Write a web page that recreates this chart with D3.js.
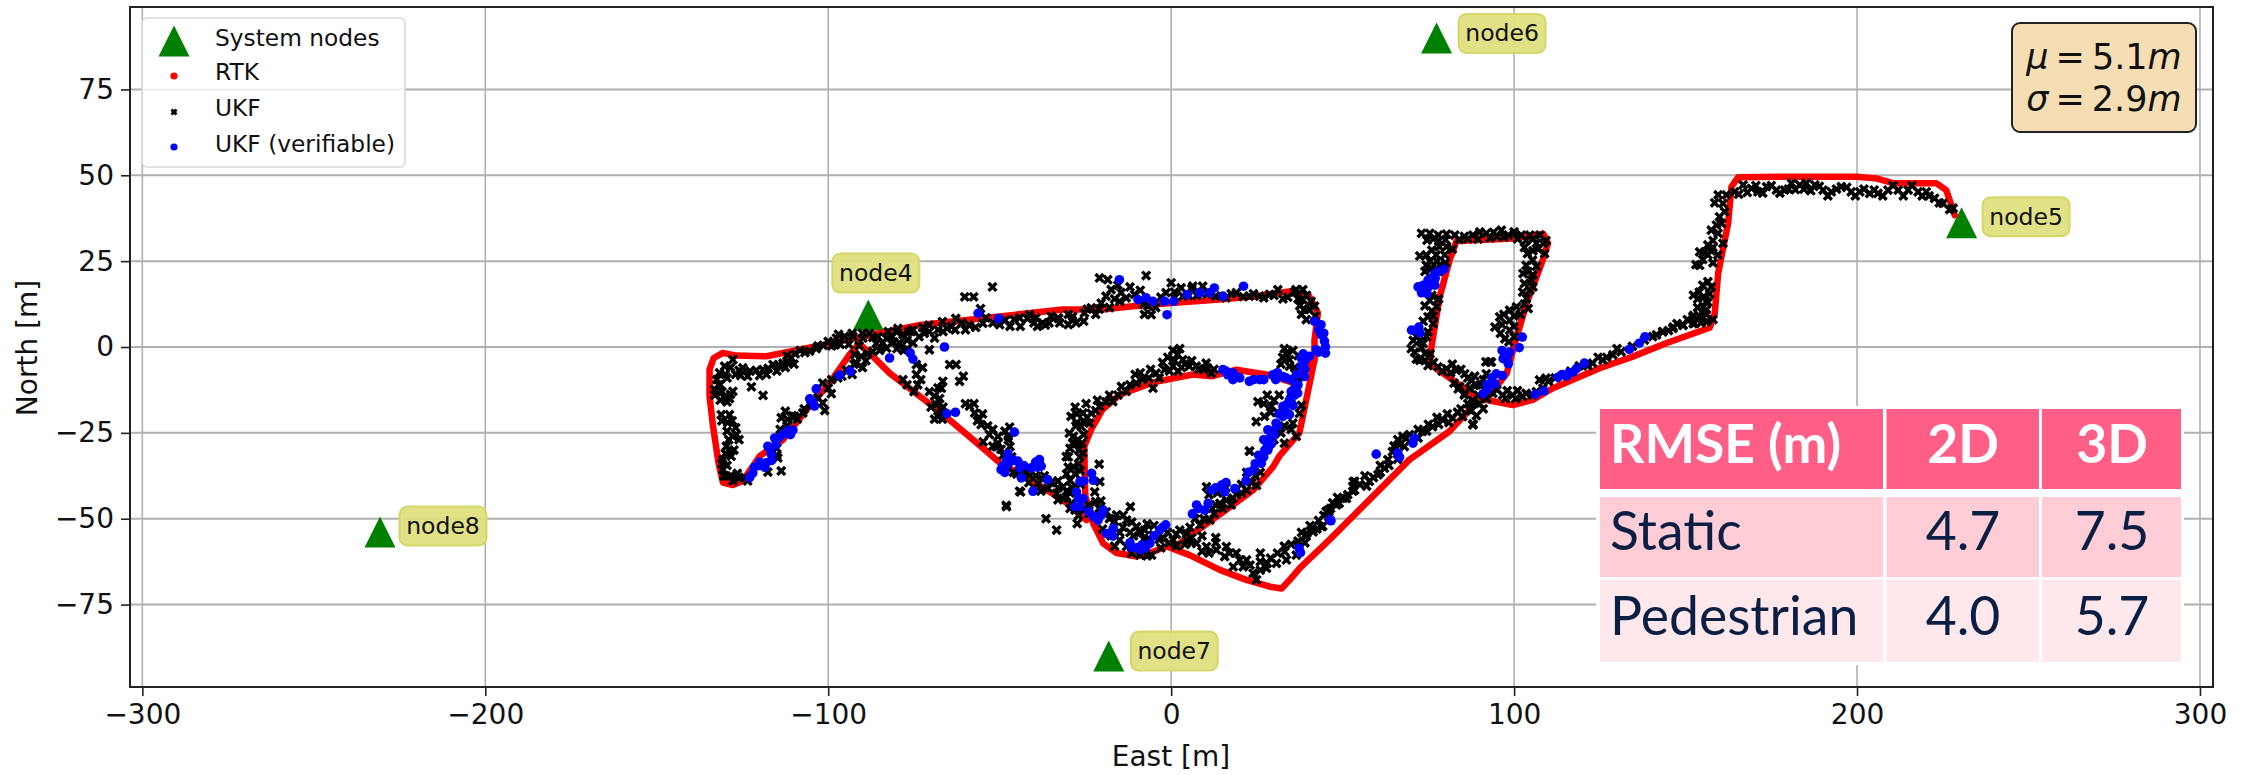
<!DOCTYPE html>
<html>
<head>
<meta charset="utf-8">
<script src="https://cdn.jsdelivr.net/npm/d3@7"></script>
<style>
  html, body { margin: 0; padding: 0; background: #fff; }
  svg { display: block; }
  text { font-family: "DejaVu Sans", sans-serif; fill: #111; }
</style>
</head>
<body>
<svg width="2244" height="775"></svg>
<script>
const xTicks = [-300, -200, -100, 0, 100, 200, 300];
const yTicks = [-75, -50, -25, 0, 25, 50, 75];

const nodeNames = ["node4", "node5", "node6", "node7", "node8"];
const nodeEast = [-88.3, 230.5, 77.4, -18.2, -230.7];
const nodeNorth = [9.3, 36.2, 90, -90, -53.9];

const legendLabels = ["System nodes", "RTK", "UKF", "UKF (verifiable)"];

const tableHeader = ["RMSE (m)", "2D", "3D"];
const tableRows = [
  ["Static", "4.7", "7.5"],
  ["Pedestrian", "4.0", "5.7"]
];

// RTK track
const rtkMain = [
  [228.5,38.4],[226,45.7],[223.1,47.7],[210.5,47.7],[205.6,49.1],[199.8,49.6],[181.3,49.6],[165.3,49.4],[163.4,46.7],
  [162.4,36],[159.5,21.4],[158.5,9.7],[157,5.6],[144.3,1.1],[134.6,-2.8],[124.9,-6.2],[111.3,-12],[105.4,-15.4],[99.6,-16.9],
  [91.8,-15.4],[97.8,-7.8],[100.2,1],[103.6,12.6],[108,24.3],[109.9,30.2],[108.5,33],[99.7,31.6],[83.2,30.9],[81.2,25.3],
  [78.3,14.6],[75.9,0],[75.4,-4.9],[82.2,-9.7],[90,-15.1],[81.1,-24.6],[69.5,-32.8],[60.7,-41.6],[46.2,-56.1],[37.5,-64.4],
  [34.6,-67.8],[32.2,-70.3],[28.8,-69.8],[21.9,-67.8],[14.2,-64.9],[5.4,-60.6],[-1.4,-58],[-5.2,-59.6],[-10,-61],[-15.9,-60],
  [-19.8,-57.2],[-22.7,-51.4],[-25,-43.6],[-25.2,-36.8],[-25.3,-28.8],[-23.3,-24],[-20,-18.2],[-15,-13.9],[-5.3,-10.3],[6.3,-8],
  [12,-8.5],[19,-6.6],[27.7,-8],[36,-10.5],[41.8,-3.7],[41.8,2.1],[42.8,9.9],[40.3,14.7],[34.5,16.2],[23.8,14.7],[14,13.8],
  [0,12.8],[-12,11.8],[-20,10.9],[-31.6,10.9],[-73.2,6.4],[-101.7,0.6],[-111,-1.3],[-118,-2.7],[-126.8,-2.5],[-130.7,-1.7],
  [-133.4,-3.2],[-134.6,-6.6],[-134.6,-14.3],[-133.6,-23],[-132,-33.7],[-130.7,-39.5],[-127.8,-40.2],[-124.9,-39],[-120,-31.8],
  [-113.2,-27],[-105.4,-17.2],[-99.6,-10.5],[-93.8,-2.2],[-91,1],[-88,-1.7],[-82.1,-7.6],[-71.4,-15.8],[-63.7,-22],[-53.9,-30.3],
  [-50,-33.7],[-39.3,-39.7],[-30.6,-45.3],[-24.7,-50.4]
];
const rtkSouth = [
  [41.8,-3.7],[39.4,-15.3],[37.4,-25],[31.6,-31.7],[29.7,-34.9],[23.9,-41.7],[15.9,-47.5],[6.4,-54.3],[1,-58.3]
];

const ukfPoints = [
  [-133.1,-12.4],[-132.5,-9.5],[-131.7,-7.5],[-130.2,-5.6],[-127.8,-3.7],[-128.5,-6],[-126,-6.8],[-124.9,-6.1],[-122.8,-7],[-121,-6.8],
  [-119,-6.6],[-117.5,-6.2],[-116.1,-5.1],[-114.5,-5.2],[-113.2,-4.7],[-112,-4.2],[-110.8,-3.2],[-109.6,-2],[-108.2,-1],[-106.8,-1.6],
  [-105.4,-1.2],[-103,0.3],[-100,1.6],[-97.6,2.6],[-95.2,3.1],[-92.8,3.1],[-89.9,2.6],[-87,2.8],[-98,0.6],[-94,0.8],[-91,0.4],
  [-122.4,-11.6],[-119,-14.1],[-131.5,-11],[-130.2,-14.8],[-127.8,-12.9],[-131.2,-19.7],[-128.8,-19.7],[-129.3,-22],[-127.8,-26],
  [-126.8,-25.5],[-129.7,-28.9],[-128.3,-31.8],[-130.7,-32.8],[-130.7,-35.7],[-129.7,-37.6],[-127.8,-39],[-125.9,-38.1],[-128.8,-15],
  [-113.7,-20.6],[-111.8,-21.1],[-109.8,-20.2],[-107.4,-19.2],[-114.7,-32.3],[-113.7,-36.1],[-117.6,-36.4],[-101.6,-10.5],[-99.1,-13.6],
  [-101.6,-16.3],[-103,-14.8],[-97.2,-9],[-94.8,-6.6],[-91.8,-4.7],[-92.3,-2.2],[-90.4,-2.7],[-87,-1.3],
  [-84.1,1.2],[-81.6,3.1],[-78.2,3.6],[-75.3,5],[-75.3,1.2],[-79.2,1.2],[-69,2.6],[-72,4],[-70.5,-0.8],[-64.6,-5.1],[-62.7,-5.1],
  [-60.6,-8.5],[-61.7,-10],[-74.3,-5.1],[-74.3,-8],[-73.9,-11],[-78.2,-9.5],[-66.6,-10],[-68,-11.9],[-69,-14.3],[-68.5,-16.8],[-68,-20.2],
  [-58.8,-17.2],[-57.3,-19.2],[-55.4,-22.6],[-47.1,-23.3],[-53,-25.5],[-50.5,-26],[-52,-28.9],[-49.6,-29.8],[-47.5,-27],[-56,-21],
  [-44.2,-42],[-48.1,-46.1],[-48,-46.5],[-36.5,-50],[-33.4,-53.3],[-27.4,-51.4],[-43.9,-42.2],[-21,-34.1],[-20.8,-39.2],[-22.3,-42.2],
  [-11.9,-46.5],[22.9,-30.3],[10.3,-40.7],[-54.8,-27.6],[-50.9,-29.1],[-41.2,-37.3],[-38.8,-39.7],[-35.9,-41.2],[-33.4,-42.6],
  [-31.5,-44.1],[-29.1,-45.5],[-25.7,-47.5],[-45,-37],[-43,-36.5],[-37,-37.5],[-33,-39],
  [-18.9,-48],[-15.9,-48.9],[-13,-50.4],[-10.1,-52.3],[-7.7,-53.3],[-5.2,-54.7],[-2.3,-55.7],[0.6,-56.2],[-20,-53],[-15,-56.2],[-13,-58.1],
  [-9.1,-60.6],[-5.7,-60.6],[-11,-55],[-8,-56],[-27.6,-28.1],[-30,-32],[-26.6,-32],[-28.6,-34.9],[-29.5,-38.8],[-31.5,-40.7],[-30.5,-43.6],
  [-29.2,-20.2],[-25.7,-19.2],[-29.7,-25.1],[-26.2,-23.2],[-28.7,-28],[-30.6,-31.9],[-25.8,-30.9],[-27.2,-27],[-27.5,-22],
  [2.5,-53.3],[4.5,-56.2],[7.4,-57.2],[10.3,-58.1],[13.2,-59.1],[16.1,-58.1],[15.6,-61],[18.1,-64],[21,-64],[23.9,-65.9],[24.9,-67.8],
  [27.8,-64.4],[30.7,-63],[33.6,-62],[33.1,-59.6],[36.5,-60.6],[39.5,-54.3],[41.4,-53.8],[43.8,-52.3],[45.8,-47.5],[48.2,-46],[51.1,-44.1],
  [53.5,-41.7],[53.1,-39.2],[4.5,-54.3],[8.4,-51.8],[11.3,-50.4],[14.2,-45.5],[16.1,-44.6],[19,-43],[22,-41.7],[24.9,-40.3],[12,-47],
  [6,-57],[9,-55],[13,-55.5],[19,-60],[22,-62],[26,-60],
  [73,33.1],[75.4,33.1],[77.9,32.6],[80.3,32.9],[82.7,32.6],[74.6,31.1],[78,30.9],[85.5,32.2],[88,32.6],[91.9,33.1],[94,33.4],[96.3,34],
  [98.3,32.6],[102.1,32.6],[104.6,32.6],[107.5,32.6],[108.5,30.2],[106.5,30.2],[108.9,27.2],[103.9,27.2],[105.4,25.3],[104.1,21.9],
  [102.6,21.4],[105,19.5],[104.6,16.5],[103.6,14.1],[104.1,11.2],[100.7,11.7],[98.7,10.7],[95.8,8.8],[98.7,7.8],[94.4,5.8],[98.7,4.9],[97.3,2.4],
  [80.3,29.2],[78.2,29.2],[74.4,26.8],[77.3,26.8],[79.8,26.8],[74.4,23.8],[78.3,23.8],[75.4,13.6],[77.4,11.7],[74.9,8.8],[76.4,6.8],[74.9,4.4],
  [70.6,1.9],[73.5,1],[71,-1.5],[74,-1.9],[72.5,-3.9],[74.9,-5.4],[77.8,-5.8],[80.3,-6.3],[83.2,-6.8],[85.6,-7.8],[87.6,-9.7],[90,-11.2],
  [83.7,-12.2],[85.6,-13.6],[88,-15.6],[90,-16.5],[88,-22.4],[87.6,-18.5],[93.4,-4.4],[91.9,-7.8],[84.1,-11.5],[85.5,-14],[91.8,-4.3],[93,-4.3],
  [93.8,-13.5],[96.7,-14],[99.6,-14],[102.5,-14.4],[105.4,-14],[107.4,-9.6],[109.3,-9.1],[108.4,-12],[122.9,-4.7],[125.9,-3.8],[128.8,-2.3],
  [131.2,-1.4],[140.4,3],[143.3,4.5],[146.3,5.4],[149.2,6.4],[152.6,6.9],[152.1,8.8],[155,8.8],[156,10.8],[156,13.2],[88,-22.7],[87,-18.3],
  [88,-16.4],[85,-20.3],[82.1,-20.7],[79.2,-21.2],[76.2,-23.2],[73.3,-24.6],[68.5,-26.6],[66.1,-27],[66.6,-28.5],[63.2,-32.8],[62.2,-35.3],
  [60.3,-37.2],[57.8,-39.1],[53.5,-39.1],[53,-42],[50.2,-44],[47.1,-45.4],[45.2,-47.9],[44.2,-52.2],[41.3,-53.2],[39.4,-55.1],
  [159.5,44.3],[161.9,44.3],[160.9,41.8],[161.4,39.4],[159.9,37.9],[159,35.5],[159.5,33.1],[160.9,30.2],[156.5,29.7],[154.1,27.7],[156.5,26.8],
  [159.4,26.8],[154.1,23.8],[156.5,19],[157.5,17.5],[152.3,15.1],[155.2,14.6],[155.2,11.7],[152.3,9.2],[156.1,7.3],[152.2,6.8],[149.3,6.3],[146.4,5.8],[143.4,4.4],
  [164.3,45.2],[166.8,47.2],[169.2,46.2],[171.1,45.2],[173.6,46.7],[176.5,45.7],[178.9,45.7],[180.9,47.7],[183.3,47.2],[185.2,47.7],[187.7,47.2],
  [190.1,45.7],[192.5,45.2],[195.4,46.7],[198.3,45.2],[200.8,45.2],[203.7,44.7],[206.1,44.7],[209,45.7],[212,45.7],[214.9,45.7],[217.8,45.2],
  [220.2,45.2],[222.6,43.3],[225.1,41.8],[228,40.4],
  [-44.2,8.5],[-41.3,9.4],[-39.4,8.5],[-37.5,7],[-35.6,7],[-33,8.5],[-32.5,7],[-28.7,8.9],[-27.7,7],[-25.3,9.9],[-23.3,11.4],[-20.4,12.8],[-19,14.8],
  [-17.5,16.7],[-20.9,20.1],[-18.5,19.6],[-7.3,20.8],[-14.6,15.8],[-13.1,14.3],[-10.7,15.3],[-6.8,11.9],[-5.8,9.4],[-1.5,15.8],[0,18.7],[2.9,17.2],
  [6.3,17.7],[9.2,17.7],[3.4,14.8],[16,14.3],[19,15.8],[22.8,14.8],[25.8,14.8],[28.7,15.3],[31.1,16.7],[32.6,14],[36.4,16.7],[38.4,16.7],[38.4,13.8],
  [40.8,13.3],[38.9,10.9],[41.8,11.9],[39.4,8],[-62.8,8.3],[-58.9,6.4],[-54.9,6.9],[-48.4,7.8],[-41.9,8.3],[-36.7,6.4],[-32.8,8.3],[-28.9,7.8],[-60.2,14.6],
  [-57.6,14.6],[-52.1,17.5],[-55.6,11.2],[-65.4,5.4],[-75.8,4.5],[-79.7,5.4],[-70.6,6.4],[-66.7,7.4],[-52,7],[-45.8,8],
  [33.5,-1.8],[34.5,-3.7],[34.5,-5.6],[25.3,-15.9],[29.2,-17.3],[24.8,-21.7],[27.2,-20.2],[22.8,-30.3],[37.4,-19.3],[35.5,-22.2],
  [-1.9,-6.6],[1.9,-2.2],[3.4,-3.7],[5.3,-5.6],[7.3,-5.6],[10.2,-4.7],[11.7,-7.6],[0.5,-5.6],[-4.4,-7.6],[-8.3,-9.5],[-10.2,-10.5],[-13.1,-12.9],
  [-5.3,-12],[-17,-15.9],[-20.9,-17.3],[-23.3,-19.3],[-23.8,-22.2]
];

// second pass over the same bands, the UKF cloud is too thick to read one by one
const ukfBand = [
  [165.5,44.5],[168,45],[170.5,47],[172.5,44.8],[175,47],[177.5,44.8],[180,46],[182,45.8],[184.5,46],[186.5,45.5],[189,46.8],[191.5,44],[194,46],[197,46.5],
  [199.5,44],[202,46],[205,45.7],[207.5,44],[210.5,47],[213.5,44],[216,47],[219,44],[221,44],[224,42],[227,40],
  [158.5,42],[160.5,36],[158,31],[157.5,34],[158,29],[155.5,27.5],[157.5,28],[155,25.5],[158,24.5],[153,24],[155,18],[157,15.5],[153.5,14],[154,16],[156.5,13],
  [153.5,11.5],[156,9.5],[154,9],[150.5,8],[154.5,7],[158,8],[147.5,6.8],[145,4.8],[141.5,3.5],[138,2],[134.5,0.2],[130,-0.5],[127,-3],[124.5,-3],[121.5,-5.5],
  [119,-5.5],[116.5,-7],[112,-9],[114,-8.5],[110,-10],[95,-12.5],[97.5,-15],[100.5,-15],[103.5,-13.5],[106.5,-13],[98,-12.7],[101,-12.7],[92,-15],[89.5,-14],[91,-18],
  [76.5,31.5],[80,31.2],[84,31.3],[86.5,31.5],[89.5,31.4],[90,33.5],[93,31.8],[95,32.2],[97,32],[100,33.5],[101,31.5],[103.5,31],[105.5,31.5],[107,28.5],[109.3,31],
  [105.5,28],[103,29],[106.5,23.5],[103.5,23.8],[105.5,21],[103,18.5],[105.5,17.5],[102.5,16],[103,12.5],[101.8,9.5],[97,9.5],[100,9],[96.5,6.5],[100,6],[96,4],[100,3],[98.5,1.5],
  [82,28.5],[76,28.2],[72.5,26.5],[75.5,25],[77.5,25],[80,24.5],[76,23],[74,22],[78,22],[76,15],[78,14],[74,12],[76,10.5],[73.5,7.5],[76.5,9],[71.5,3],[74.5,3],[72.5,1.8],
  [70,-0.5],[73,-0.2],[75.5,-2],[71.5,-3.5],[74,-4],[76.5,-4.5],[79,-7],[81.5,-7.5],[82,-5],[84.5,-6.5],[86.5,-9],[88.5,-8.5],[89,-11],[91,-9.5],[92,-12],[87,-12],[82.5,-10.5],
  [86.5,-16.5],[84.5,-18],[89,-20],[83.5,-19],[80.5,-19.5],[81,-22],[78,-22.5],[77.5,-20.5],[75,-22.5],[74.5,-24.5],[72,-24],[72,-26.5],[69.5,-25.5],[67.5,-26],[65,-28.8],
  [68,-29],[64.5,-30.5],[66,-32.7],[63.5,-34.5],[61,-34.5],[61,-36.5],[59,-38],[56.5,-37.5],[55,-40],[57,-40.5],[53,-40.5],[51.5,-43],[48.5,-43.8],[49,-45.5],[46.5,-47],
  [44.5,-49],[46,-49.5],[43,-50.5],[42.5,-53],[40.5,-52],[38,-54],[37,-56.5],[39,-57],[35,-57.5],[33,-58],[31,-60],[29,-61.5],[28,-63],[26,-62.5],[26,-65],[23,-63.5],[20,-62],
  [17,-60],[13,-57],[11,-60],[9,-59.5],[6,-55.5],[4,-57.5],[1.5,-54.5],[-1,-54],[-0.5,-57],[1.5,-58],
  [5.5,-52.5],[7,-50],[9.5,-50],[12.5,-48.5],[13,-46],[15,-47],[17.5,-46],[18,-44],[20.5,-42.5],[23.5,-39.5],[20.5,-40],[16,-41],[13.5,-42.5],[11,-43],[26,-36.5],[24.5,-37.5],[22,-36.5],
  [33,-23],[35,-24],[32,-25],[30,-27],[33,-28],[35,-15],[38,-17],[31.5,-14],[30,-15.5],[28,-14],[27,-16.5],[31,-19],[36.5,-26],[29,-19],[37,-9],[32,-5],[33,-0.5],[35.5,-1],[32.5,-3],[36,-6],[37,-2.5],
  [-2.5,-4.5],[-1,-3],[0.5,-1],[2.5,-0.5],[1,-4],[3,-6],[-0.5,-7],[2,-7],[4,-5],[6,-4],[8,-6.5],[9.5,-6.5],[10.5,-6],[12.5,-6.5],[-3.5,-9],[-6,-6.5],[-6.5,-9],[-9,-7.5],[-10.5,-8],[-12,-11],
  [-14.5,-11.5],[-15.5,-14],[-18,-14],[-19,-16],[-21.5,-15.5],[-22,-18.5],[-24.8,-16.5],[-24.5,-20.5],[-27.5,-19.5],[-28,-17.5],[-25.5,-21.5],[-27.8,-23],[-25.5,-25.5],[-28.5,-26],[-26,-28],
  [-29.5,-29.5],[-27,-30],[-27,-34],[-30,-35],[-26.5,-36],[-28,-37],[-30.5,-37],[-26.5,-40],[-28.8,-41],[-29.5,-42.5],[-27.5,-44],[-28,-47.5],
  [-67,-12],[-67.5,-15],[-70.5,-13],[-70,-17.5],[-66.5,-17.5],[-67.2,-19.5],[-69,-21],[-66.7,-21],[-72.5,-6],[-73,-9.5],[-75,-13],[-77,-11],[-60,-16.5],[-57.5,-16.5],[-55,-19.5],[-53.5,-23],
  [-56.5,-21.5],[-52,-24],[-48.5,-24.5],[-50.5,-28],[-47.5,-26],[-49,-31.5],[-47,-29],[-46.5,-32],[-44,-36.5],[-46,-36.5],[-41.5,-39.5],[-39.5,-37.5],[-37.5,-38.5],[-38,-42],[-35,-39.5],[-33,-41],
  [-33,-44.5],[-30.5,-42],[-29.5,-47],[-27.5,-46.5],[-27,-49],[-24,-46],[-22,-45],[-20.5,-44.8],[-24,-48.5],[-21,-47],[-18,-50],[-16.5,-50.8],[-14,-49],[-11.5,-51],[-14,-52.5],[-12,-54],[-9,-54],
  [-7,-51.5],[-5,-52],[-3.5,-56],[-6.5,-55.8],[-15,-54],[-17.5,-55],[-16.5,-58],[-11.5,-60],[-7,-60.8],[-3,-58.5],
  [-112,-2.5],[-110,-5],[-112.5,-6],[-115,-7],[-118,-8],[-120,-8.3],[-123.5,-8.5],[-125.5,-8.3],[-127,-8],[-129.5,-9],[-130,-8],[-132,-11],[-133,-14],[-131,-13],[-128.5,-13.8],[-129.5,-16],[-131.5,-15.5],
  [-131,-21.5],[-128,-21.5],[-127,-23.5],[-129.5,-24.5],[-126,-27],[-129,-27],[-129,-30],[-127.5,-30],[-130,-31],[-131,-34],[-129.5,-34.5],[-130.5,-37.5],[-128.5,-37.5],[-126.5,-36.8],[-124.5,-38],[-123.5,-39],
  [-103.5,-0.5],[-101.5,0.5],[-99,0.3],[-96.5,0.8],[-97,3.7],[-93,4],[-90,4],[-88,4],[-86,1],[-85.5,3],[-83,2.5],[-82.5,4.5],[-81,1.5],[-80,4.3],[-77,2],[-76.5,4.5],[-73.5,3],[-72.5,5.7],[-70.5,4.5],[-68,5],
  [-66.5,4.5],[-64,6],[-63,5],[-61,7],[-60,5],[-57,5.7],[-54,8.5],[-50,6.5],[-47,6],[-44,6],[-40,7],[-39,6],[-35,9],[-30,9.5],[-30,6.5],[-25.5,7.5],[-24.5,11],[-22,9.5],[-21,11],[-18,11.5],[-16.5,14],[-15,13.3],
  [-12,17.5],[-15.5,18],[-9,16.5],[-8,12.5],[-4.5,11.5],[-7.8,9.5],[-3,14.5],[1,16],[1,14.5],[5,15],[6,17],[7.5,15],[10.5,15.5],[13,14.8],[17.5,15.5],[21,14.7],[24,15.5],[27,14.3],[30,15],[34,14.5],[37,14],
  [39.5,15],[36,16],[40,11],[42,9],[38,9.5],[37.5,12],[-89,-4],[-88.5,-2],[-92.5,-5],[-90,-6],[-93,-8],[-96,-8.5],[-99,-9.5],[-100,-12],[-104,-16],[-105,-17],[-101,-18.5],[-107,-18],[-109,-21],[-112,-23],
  [-110.5,-20],[-114,-24],[-112.5,-18.7],[-115,-29.5],[-115,-31.5],[-85,-1],[-83,-0.3],[-80,-0.5],[-78,-1],[-77,-0.6]
];

const ukfVerifiable = [
  [-122.9,-38],[-122,-36.7],[-120,-34.5],[-118.1,-33.7],[-116.6,-31.3],[-117.6,-28.9],[-115.2,-28.4],[-115.6,-26.5],[-113.2,-25.5],[-110.3,-24.2],
  [-105.4,-15.1],[-104,-17.2],[-103.5,-12.2],[-96.7,-8.2],[-93.6,-7.1],[-82.1,-3.2],[-76.1,-1.7],[-75.3,-3.5],[-66.1,0],[-65.4,-19.4],[-62.9,-19],
  [-45.7,-24.8],[-47.6,-31.1],[-49.1,-34.7],[-49.6,-35.7],[-47.6,-34.2],[-44.7,-33.2],[-44.2,-35.2],[-40.8,-35.2],[-38.4,-32.8],[-37.9,-34.7],
  [-43.7,-38.1],[-36,-38.6],[-40.3,-42],[-26.6,-39.2],[-23.2,-36.8],[-22.7,-38.8],[-27.6,-42.2],[-25.7,-44.1],[-28.1,-46.5],[-22.7,-49.4],
  [-19.8,-47.5],[-21.3,-50.4],[-18.9,-54.3],[-16.9,-52.8],[-11.6,-58.3],[-8.6,-57.7],[-6.2,-57.2],[-3.3,-53.3],[-1.6,-51.8],[6.2,-48.6],[9.8,-47.5],
  [10.8,-45.5],[7.4,-46],[11.8,-41.7],[14.7,-40.2],[15.6,-42.2],[18.6,-41.2],[21.8,-39],[23.9,-35.9],[26.3,-33.9],[27.3,-30],[29.3,-28.1],
  [37.3,-58.6],[37.7,-59.9],[46.6,-50.6],[41.8,7.5],[43.7,6.5],[43.7,3.6],[44.7,1.7],[45,-1.8],[42.3,-0.8],[40.3,-2.7],[37.9,-3.2],[37.9,-5.6],
  [38.9,-8.6],[36,-12],[36.9,-13.4],[34.5,-15.4],[32.6,-17.3],[34.5,-19.7],[32.6,-20.2],[30.6,-22.2],[28.2,-24.1],[28.7,-26.6],[28.2,-30],
  [15.1,-6.6],[16.5,-8.1],[19,-8.6],[22.8,-10],[25.8,-9.5],[29.6,-8.1],[32.6,-8.6],[35,-9.5],[18,-9.5],[-15.1,19.6],[-9.7,13.8],[-7.3,14.3],[-5.3,13.3],
  [-1.9,13.3],[0.7,13.3],[-1.2,9.4],[4.7,15.3],[8.3,15.8],[11.2,15.8],[12.6,17.2],[15.1,14.8],[21.1,17.7],[-56.3,9.8],[-50.3,8.3],
  [79.5,22.6],[76.9,21.4],[74.9,19.5],[76.9,18],[72,17.5],[73,15.8],[74.6,15.6],[70.1,4.9],[72.2,5.8],[72.5,4.1],[102.4,2.9],[101.5,-0.2],[97.3,-1.9],
  [98.7,-1.5],[96.8,-3.4],[98.3,-4.9],[94.8,-7.8],[96.6,-8.3],[94.4,-10.7],[92.4,-12.2],[91,-13.6],[106.2,-13.8],[108.7,-12.8],[112.8,-8.8],[115.3,-8.5],
  [117.2,-7.3],[118.2,-6.3],[120.5,-4.7],[133.6,-0.7],[136.5,1.1],[138.2,3],[70.9,-26.6],[70.5,-28],[66.1,-30.9],[66.6,-32.1],[59.8,-31.2],[46.4,-50.3],
  [-120,-33.5],[-121.5,-35],[-118.5,-35],[-116.8,-30],[-116.5,-33],[-114.5,-26.5],[-112,-24.5],[-111,-25.5],[-104.5,-16],[-46,-33],[-48,-33],[-48.5,-36.5],
  [-43,-34.5],[-39,-35],[-39.5,-33.5],[-25.5,-39],[-27,-44],[-26.5,-46.5],[-24,-48],[-20.5,-49],[-17,-55],[-10,-58.5],[-9,-59],[-7.5,-58.5],[-12,-57],[-5,-55],
  [-2.5,-52.5],[8,-47],[13,-41],[16,-39.5],[24.5,-34],[22.5,-36.5],[25.5,-31.5],[27,-32],[28.5,-29],[43,5],[44.5,4],[45,0],[43,-1.5],[39,-4],[36,-14],[35,-13],
  [37,-11],[35.5,-17],[33.5,-19],[31.5,-19.5],[31,-23],[29.5,-24.5],[27,-27],[30,-25.5],[28,-28],[39,-6.5],[36.5,-8],[34,-16.5],[38.5,-2],[16,-7],[18,-7.5],[20,-9],
  [24,-9.5],[27,-9.5],[31,-7.5],[30.5,-9.5],[33.5,-9],[78,22],[76,20],[73.5,18],[75,17.5],[77,20],[98,-3],[97.5,-2.5],[96.5,-1],[93.5,-9],[92,-11],[114,-8],[116,-7.5]
];

const svg = d3.select("svg");

/* -----------------------------
   Scales and axes
----------------------------- */

const x = d3.scaleLinear().domain([-303.6, 303.8]).range([130, 2213]);
const y = d3.scaleLinear().domain([-99, 99]).range([687, 7]);

const grid = svg.append("g").attr("stroke", "#b0b0b0");
grid.selectAll(".gx").data(xTicks).enter().append("line")
  .attr("x1", d => x(d)).attr("x2", d => x(d))
  .attr("y1", 7).attr("y2", 687).attr("stroke-width", 1.6);
grid.selectAll(".gy").data(yTicks).enter().append("line")
  .attr("y1", d => y(d)).attr("y2", d => y(d))
  .attr("x1", 130).attr("x2", 2213).attr("stroke-width", 2);

const xAxis = svg.append("g").attr("transform", "translate(0,687)")
  .call(d3.axisBottom(x).tickValues(xTicks).tickSize(9).tickPadding(8));
const yAxis = svg.append("g").attr("transform", "translate(130,0)")
  .call(d3.axisLeft(y).tickValues(yTicks).tickSize(9).tickPadding(7));

[xAxis, yAxis].forEach(a => {
  a.selectAll("text").style("font-size", "28px").style("font-family", '"DejaVu Sans"').attr("fill", "#222");
  a.selectAll("line").attr("stroke", "#222").attr("stroke-width", 1.6);
  a.select(".domain").remove();
});

svg.append("text").attr("x", 1171).attr("y", 766).attr("text-anchor", "middle")
  .style("font-size", "28px").text("East [m]");
svg.append("text").attr("transform", "translate(37,348) rotate(-90)").attr("text-anchor", "middle")
  .style("font-size", "28px").text("North [m]");

/* -----------------------------
   Marks
----------------------------- */

const trianglePath = "M0,-15.5L15.5,15.5L-15.5,15.5Z";

svg.selectAll(".node").data(nodeNames).enter().append("path")
  .attr("transform", (d, i) => `translate(${x(nodeEast[i])},${y(nodeNorth[i])})`)
  .attr("d", trianglePath)
  .attr("fill", "#008000");

const line = d3.line().x(d => x(d[0])).y(d => y(d[1]));

svg.selectAll(".rtk").data([rtkMain, rtkSouth]).enter().append("path")
  .attr("d", line)
  .attr("fill", "none")
  .attr("stroke", "#ff0000")
  .attr("stroke-width", 6.5)
  .attr("stroke-linejoin", "round")
  .attr("stroke-linecap", "round");

const cross = d3.symbol().type(d3.symbolTimes).size(42);

svg.selectAll(".ukf").data(ukfPoints.concat(ukfBand)).enter().append("path")
  .attr("transform", d => `translate(${x(d[0])},${y(d[1])})`)
  .attr("d", cross)
  .attr("fill", "none")
  .attr("stroke", "#000")
  .attr("stroke-width", 3.4);

svg.selectAll(".ver").data(ukfVerifiable).enter().append("circle")
  .attr("cx", d => x(d[0]))
  .attr("cy", d => y(d[1]))
  .attr("r", 4.8)
  .attr("fill", "#0000ff");

/* -----------------------------
   Node labels
----------------------------- */

// box offset from its marker, node4 sits above, the rest to the right
const labelDx = [-36, 21, 22, 22, 19.5];
const labelDy = [-42, -6, -4.5, -5, -6];

const labels = svg.selectAll(".label").data(nodeNames).enter().append("g")
  .attr("transform", (d, i) => `translate(${x(nodeEast[i]) + labelDx[i]},${y(nodeNorth[i]) + labelDy[i]})`);

labels.append("rect")
  .attr("x", 0).attr("y", -19.5)
  .attr("width", 87).attr("height", 39)
  .attr("rx", 8)
  .attr("fill", "#dfdf80")
  .attr("fill-opacity", 0.95)
  .attr("stroke", "#d6d66a")
  .attr("stroke-width", 2);

labels.append("text")
  .attr("x", 43.5).attr("y", 8)
  .attr("text-anchor", "middle")
  .style("font-size", "23.5px")
  .text(d => d);

/* -----------------------------
   Legend
----------------------------- */

const legend = svg.append("g");

legend.append("rect")
  .attr("x", 142).attr("y", 18)
  .attr("width", 263).attr("height", 149)
  .attr("rx", 5)
  .attr("fill", "#fff")
  .attr("fill-opacity", 0.8)
  .attr("stroke", "#d8d8d8")
  .attr("stroke-width", 1.5);

const legendY = [40, 74, 110, 146];

legend.selectAll(".lt").data(legendLabels).enter().append("text")
  .attr("x", 215)
  .attr("y", (d, i) => legendY[i] + 6)
  .style("font-size", "23.3px")
  .text(d => d);

legend.append("path").attr("transform", "translate(174,41)").attr("d", trianglePath).attr("fill", "#008000");
legend.append("circle").attr("cx", 174).attr("cy", 76).attr("r", 3.6).attr("fill", "#ff0000");
legend.append("path").attr("transform", "translate(174,112)")
  .attr("d", d3.symbol().type(d3.symbolTimes).size(18)).attr("fill", "none").attr("stroke", "#000").attr("stroke-width", 3);
legend.append("circle").attr("cx", 174).attr("cy", 147).attr("r", 3.6).attr("fill", "#0000ff");

/* -----------------------------
   Stats box
----------------------------- */

svg.append("rect")
  .attr("x", 2012).attr("y", 23)
  .attr("width", 184).attr("height", 109)
  .attr("rx", 8)
  .attr("fill", "#f5deb3")
  .attr("stroke", "#222")
  .attr("stroke-width", 2);

const stats = [["\u03bc", "\u2009=\u20095.1", "m"], ["\u03c3", "\u2009=\u20092.9", "m"]];

const statText = svg.selectAll(".stat").data(stats).enter().append("text")
  .attr("x", 2104)
  .attr("y", (d, i) => 69 + i * 42)
  .attr("text-anchor", "middle")
  .style("font-size", "35px");

statText.append("tspan").style("font-style", "italic").text(d => d[0]);
statText.append("tspan").text(d => d[1]);
statText.append("tspan").style("font-style", "italic").text(d => d[2]);

/* -----------------------------
   RMSE table
----------------------------- */

svg.append("rect").attr("x", 1596).attr("y", 406).attr("width", 588).attr("height", 259).attr("fill", "#fff");

const colX = [1600, 1886.5, 2042];
const colW = [283, 152.5, 139];
const rowY = [409, 497, 579.5];
const rowH = [80, 80, 82.5];
const rowFill = ["#ff5f87", "#ffcdd6", "#ffe8ec"];
const baseline = [463, 550, 635];
const cellX = [1610, 1963, 2112];

[tableHeader, ...tableRows].forEach((row, r) => {
  row.forEach((cell, c) => {
    svg.append("rect")
      .attr("x", colX[c]).attr("y", rowY[r])
      .attr("width", colW[c]).attr("height", rowH[r])
      .attr("fill", rowFill[r]);
    svg.append("text")
      .attr("x", cellX[c]).attr("y", baseline[r])
      .attr("text-anchor", c === 0 ? "start" : "middle")
      .style("font-family", "Lato")
      .style("font-size", "53.5px")
      .style("font-weight", r === 0 ? 700 : 400)
      .style("fill", r === 0 ? "#fff" : "#0b1f45")
      .text(cell);
  });
});

/* -----------------------------
   Axes frame on top of the grid
----------------------------- */

svg.append("rect")
  .attr("x", 130).attr("y", 7)
  .attr("width", 2083).attr("height", 680)
  .attr("fill", "none")
  .attr("stroke", "#222")
  .attr("stroke-width", 2);
</script>
</body>
</html>
